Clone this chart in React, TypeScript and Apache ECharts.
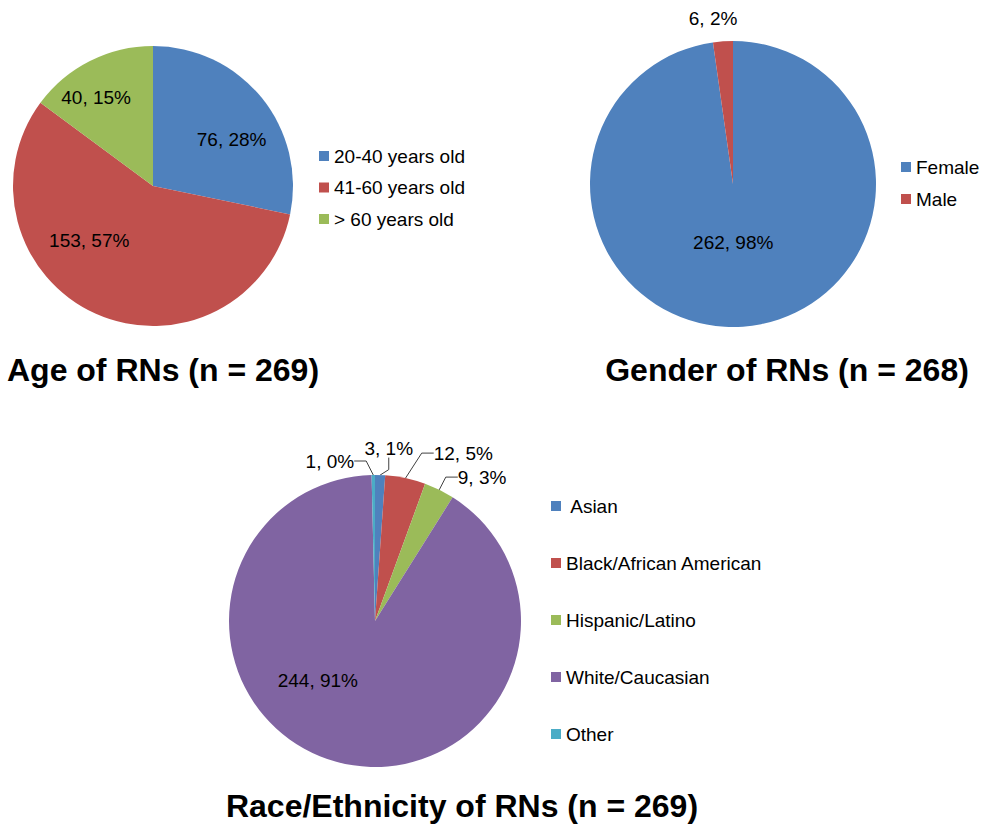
import React, { useEffect, useRef } from "react";
import * as echarts from "echarts";

const ageNames = ["20-40 years old", "41-60 years old", "> 60 years old"];
const ageValues = [76, 153, 40];
const ageColors = ["#4F81BD", "#C0504D", "#9BBB59"];

const genderNames = ["Female", "Male"];
const genderValues = [262, 6];
const genderColors = ["#4F81BD", "#C0504D"];

const raceNames = [" Asian", "Black/African American", "Hispanic/Latino", "White/Caucasian", "Other"];
const raceValues = [3, 12, 9, 244, 1];
const raceColors = ["#4F81BD", "#C0504D", "#9BBB59", "#8064A2", "#4BACC6"];
const raceInside = [false, false, false, true, false];

const titles = ["Age of RNs (n = 269)", "Gender of RNs (n = 268)", "Race/Ethnicity of RNs (n = 269)"];

// label nudges (px) to mimic Excel's "best fit" placement, per series / data index
const labelShift: number[][][] = [
  [[22, 0], [-34, -12], [-24, -23]],
  [[-5, -16], [20, -15]],
  [[-33, -17], [-32, -33], [-36, -30], [-37, -14], [-2, -4]],
];

const FONT = "'Liberation Sans', Arial, sans-serif";

export default function App() {
  const ref = useRef<HTMLDivElement>(null);
  useEffect(() => {
    if (!ref.current) return;
    const chart = echarts.init(ref.current, undefined, { renderer: "svg" });
    const labelBase = {
      color: "#000",
      fontSize: 19,
      fontFamily: FONT,
      formatter: "{c}, {d}%",
    };
    const legendText = { color: "#000", fontSize: 19, fontFamily: FONT, lineHeight: 20 };
    const legendBase = {
      orient: "vertical",
      icon: "rect",
      itemWidth: 10,
      itemHeight: 10,
      padding: 0,
      selectedMode: false,
      textStyle: legendText,
    };
    const titleStyle = { font: `bold 32px ${FONT}`, fill: "#000", textAlign: "center", textVerticalAlign: "middle" };
    const layout = (p: any) => {
      const s = labelShift[p.seriesIndex]?.[p.dataIndex] || [0, 0];
      const r = p.labelRect;
      return {
        x: r.x + r.width / 2 + s[0],
        y: r.y + r.height / 2 + s[1],
        align: "center",
        verticalAlign: "middle",
      };
    };
    chart.setOption({
      animation: false,
      backgroundColor: "#fff",
      legend: [
        { ...legendBase, data: ageNames, left: 319, top: 146, itemGap: 11.5 },
        { ...legendBase, data: genderNames, left: 901, top: 157, itemGap: 12 },
        { ...legendBase, data: raceNames, left: 551, top: 496, itemGap: 37 },
      ],
      graphic: [
        { type: "text", x: 163, y: 370, style: { text: titles[0], ...titleStyle } },
        { type: "text", x: 787, y: 370, style: { text: titles[1], ...titleStyle } },
        { type: "text", x: 462, y: 806, style: { text: titles[2], ...titleStyle } },
      ],
      series: [
        {
          type: "pie",
          center: [153, 186],
          radius: 140,
          startAngle: 90,
          clockwise: true,
          percentPrecision: 0,
          label: { ...labelBase, position: "inside" },
          labelLine: { show: false },
          labelLayout: layout,
          emphasis: { disabled: true },
          itemStyle: { borderWidth: 0 },
          data: ageNames.map((n, i) => ({ name: n, value: ageValues[i], itemStyle: { color: ageColors[i] } })),
        },
        {
          type: "pie",
          center: [733, 184],
          radius: 143,
          startAngle: 90,
          clockwise: true,
          percentPrecision: 0,
          label: { ...labelBase, position: "inside" },
          labelLine: { show: false, length: 8, length2: 0 },
          labelLayout: layout,
          emphasis: { disabled: true },
          itemStyle: { borderWidth: 0 },
          data: genderNames.map((n, i) => ({
            name: n,
            value: genderValues[i],
            itemStyle: { color: genderColors[i] },
            label: { position: i === 1 ? "outside" : "inside" },
            labelLine: { show: false },
          })),
        },
        {
          type: "pie",
          center: [375, 621],
          radius: 146,
          startAngle: 90,
          clockwise: true,
          percentPrecision: 0,
          label: { ...labelBase, position: "outside" },
          labelLine: { show: true, length: 10, length2: 12, lineStyle: { color: "#404040", width: 1 } },
          labelLayout: layout,
          emphasis: { disabled: true },
          itemStyle: { borderWidth: 0 },
          data: raceNames.map((n, i) => ({
            name: n,
            value: raceValues[i],
            itemStyle: { color: raceColors[i] },
            label: { position: raceInside[i] ? "inside" : "outside" },
            labelLine: { show: !raceInside[i] },
          })),
        },
      ],
    });
    return () => chart.dispose();
  }, []);
  return <div ref={ref} style={{ position: "fixed", left: 0, top: 0, width: 987, height: 825 }} />;
}
